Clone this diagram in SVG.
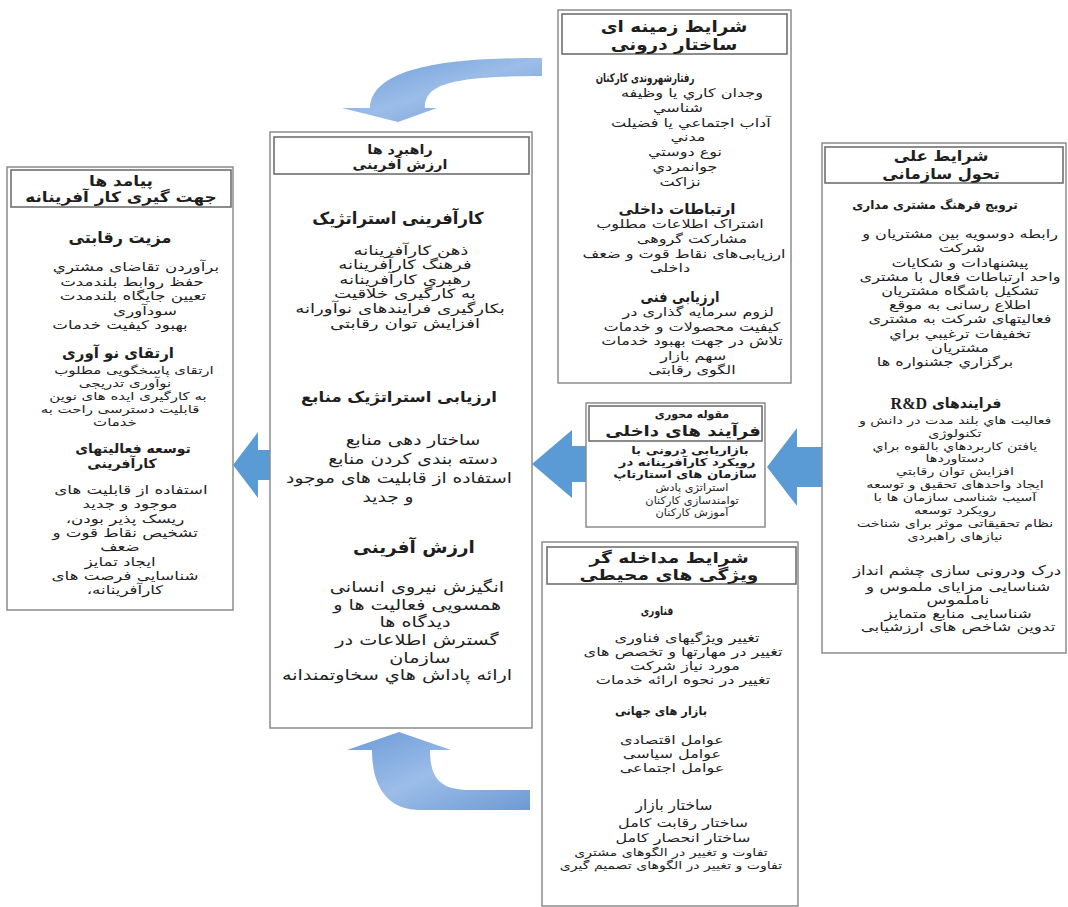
<svg xmlns="http://www.w3.org/2000/svg" width="1068" height="907" viewBox="0 0 1068 907">
<style>
.box{fill:#fff;stroke:#8c8c8c;stroke-width:1.5}
.hdr{fill:#fff;stroke:#707070;stroke-width:1.6}
text{font-family:"DejaVu Sans","Noto Sans",sans-serif;text-anchor:middle;direction:rtl;dominant-baseline:central;fill:#1e1e1e;transform-box:fill-box;transform-origin:50% 50%}
.bd{font-weight:bold}
.f105{font-size:10.5px}.f11{font-size:11px}.f115{font-size:11.5px}.f12{font-size:12px}.f13{font-size:13px}
.f14{font-size:14px}.f145{font-size:14.5px}.f15{font-size:15px}.f155{font-size:15.5px}.f16{font-size:16px}.f165{font-size:16.5px}.f17{font-size:17px}
.x072{transform:scaleX(.72)}.x08{transform:scaleX(.8)}.x087{transform:scaleX(.87)}.x095{transform:scaleX(.95)}.x108{transform:scaleX(1.08)}
.x11{transform:scaleX(1.1)}.x115{transform:scaleX(1.15)}.x117{transform:scaleX(1.17)}.x12{transform:scaleX(1.2)}
.x124{transform:scaleX(1.24)}.x128{transform:scaleX(1.28)}.x134{transform:scaleX(1.34)}.x136{transform:scaleX(1.36)}
.x139{transform:scaleX(1.39)}.x14{transform:scaleX(1.4)}
.arr{fill:#5b9bd5}
</style>
<defs>
<linearGradient id="cg" x1="0" y1="0" x2="1" y2="1">
<stop offset="0" stop-color="#6b9bd8"/>
<stop offset="0.5" stop-color="#9cbde8"/>
<stop offset="1" stop-color="#6d9ad4"/>
</linearGradient>
</defs>
<g id="connectors">
<path fill="url(#cg)" d="M542,58 C470,58 372,62 370,108 L342,108 L398,122 L437,108 L425,108 C425,86 445,76 542,76 Z"/>
<path fill="url(#cg)" d="M530,810 L420,810 C390,810 372,790 372,750 L347,750 L399,732 L451,750 L430,750 C430,778 440,790 470,790 L530,790 Z"/>
<path class="arr" d="M233,465 L258,432 L258,450 L272,450 L272,480 L258,480 L258,498 Z"/>
<path class="arr" d="M532,464 L572,430 L572,446 L588,446 L588,482 L572,482 L572,498 Z"/>
<path class="arr" d="M767,467 L797,428 L797,447 L822,447 L822,487 L797,487 L797,506 Z"/>
</g>
<g id="node-context">
<rect class="box" x="558" y="10" width="233" height="373"/>
<rect class="hdr" x="562" y="14" width="225" height="40"/>
<text class="bd f16 x115" x="674" y="26">شرایط زمینه ای</text>
<text class="bd f16 x115" x="674" y="44">ساختار درونی</text>
<text class="bd f12 x072" x="645" y="77">رفتارشهروندی کارکنان</text>
<text class="f12 x134" x="692" y="93">وجدان کاري يا وظيفه</text>
<text class="f12 x134" x="678" y="108">شناسي</text>
<text class="f12 x134" x="691" y="122.5">آداب اجتماعي يا فضيلت</text>
<text class="f12 x134" x="688" y="137">مدني</text>
<text class="f12 x134" x="685" y="152">نوع دوستي</text>
<text class="f12 x134" x="685" y="167">جوانمردي</text>
<text class="f12 x134" x="680" y="182">نزاكت</text>
<text class="bd f14 x108" x="677" y="209">ارتباطات داخلی</text>
<text class="f12 x134" x="680" y="224">اشتراک اطلاعات مطلوب</text>
<text class="f12 x134" x="692" y="239">مشارکت گروهی</text>
<text class="f12 x134" x="684" y="254">ارزیابی‌های نقاط قوت و ضعف</text>
<text class="f12 x134" x="670" y="268">داخلی</text>
<text class="bd f15 x087" x="680" y="297">ارزیابی فنی</text>
<text class="f12 x134" x="698" y="312">لزوم سرمایه گذاری در</text>
<text class="f12 x134" x="692" y="326.5">کیفیت محصولات و خدمات</text>
<text class="f12 x134" x="692" y="341">تلاش در جهت بهبود خدمات</text>
<text class="f12 x134" x="693" y="355.5">سهم بازار</text>
<text class="f12 x134" x="692" y="370">الگوی رقابتی</text>
</g>
<g id="node-causal">
<rect class="box" x="822" y="143" width="244" height="510"/>
<rect class="hdr" x="825" y="147" width="238" height="36"/>
<text class="bd f15 x108" x="941" y="156">شرایط علی</text>
<text class="bd f15 x108" x="941" y="174">تحول سازمانی</text>
<text class="bd f12" x="935" y="205">ترویج فرهنگ مشتری مداری</text>
<text class="f12 x134" x="960" y="234">رابطه دوسویه بین مشتریان و</text>
<text class="f12 x134" x="962" y="248.2">شرکت</text>
<text class="f12 x134" x="960" y="262.4">پیشنهادات و شکایات</text>
<text class="f12 x134" x="960" y="276.6">واحد ارتباطات فعال با مشتری</text>
<text class="f12 x134" x="960" y="290.8">تشکیل باشگاه مشتریان</text>
<text class="f12 x134" x="960" y="305">اطلاع رسانی به موقع</text>
<text class="f12 x134" x="960" y="319.2">فعالیتهای شرکت به مشتری</text>
<text class="f12 x134" x="960" y="333.4">تخفیفات ترغیبي براي</text>
<text class="f12 x134" x="960" y="347.6">مشتريان</text>
<text class="f12 x134" x="945" y="361.8">برگزاري جشنواره ها</text>
<text class="bd f14" x="946" y="403">فرایندهای <tspan font-family="Liberation Serif" font-size="16">R&amp;D</tspan></text>
<text class="f105 x136" x="955" y="420">فعالیت هاي بلند مدت در دانش و</text>
<text class="f105 x136" x="955" y="432.9">تکنولوژی</text>
<text class="f105 x136" x="955" y="445.8">یافتن کاربردهاي بالقوه براي</text>
<text class="f105 x136" x="955" y="458.7">دستاوردها</text>
<text class="f105 x136" x="955" y="471.6">افزایش توان رقابتي</text>
<text class="f105 x136" x="955" y="484.5">ایجاد واحدهای تحقیق و توسعه</text>
<text class="f105 x136" x="955" y="497.4">آسیب شناسی سازمان ها با</text>
<text class="f105 x136" x="955" y="510.3">رویکرد توسعه</text>
<text class="f105 x136" x="955" y="523.2">نظام تحقیقاتی موثر برای شناخت</text>
<text class="f105 x136" x="955" y="536.1">نیازهای راهبردی</text>
<text class="f13 x128" x="957" y="571">درک ودرونی سازی چشم انداز</text>
<text class="f12 x139" x="958" y="587">شناسایی مزایای ملموس و</text>
<text class="f12 x139" x="958" y="600.3">ناملموس</text>
<text class="f12 x139" x="958" y="613.6">شناسایی منابع متمایز</text>
<text class="f12 x139" x="958" y="627">تدوین شاخص های ارزشیابی</text>
</g>
<g id="node-outcomes">
<rect class="box" x="7" y="167" width="226" height="443"/>
<rect class="hdr" x="11" y="170" width="220" height="37"/>
<text class="bd f145 x117" x="121" y="181">پیامد ها</text>
<text class="bd f145 x117" x="121" y="197">جهت گیری کار آفرینانه</text>
<text class="bd f16" x="120" y="237">مزیت رقابتی</text>
<text class="f12 x139" x="136" y="267">برآوردن تقاضای مشتري</text>
<text class="f12 x139" x="132" y="281.5">حفظ روابط بلندمدت</text>
<text class="f12 x139" x="133" y="296">تعیین جایگاه بلندمدت</text>
<text class="f12 x139" x="145" y="310.5">سودآوری</text>
<text class="f12 x139" x="120" y="325">بهبود کیفیت خدمات</text>
<text class="bd f15" x="118" y="353">ارتقای نو آوری</text>
<text class="f11 x136" x="134" y="370">ارتقای پاسخگویی مطلوب</text>
<text class="f11 x136" x="125" y="383">نوآوری تدریجی</text>
<text class="f11 x136" x="128" y="396">به کارگیری ایده های  نوین</text>
<text class="f11 x136" x="120" y="409">قابلیت دسترسی راحت به</text>
<text class="f11 x136" x="115" y="422">خدمات</text>
<text class="bd f13 x108" x="133" y="448">توسعه فعالیتهای</text>
<text class="bd f13 x108" x="122" y="463">کارآفرینی</text>
<text class="f12 x139" x="131" y="490">استفاده از قابلیت های</text>
<text class="f12 x139" x="130" y="504.3">موجود و جدید</text>
<text class="f12 x139" x="125" y="518.6">ریسک پذیر بودن،</text>
<text class="f12 x139" x="125" y="532.9">تشخیص نقاط قوت و</text>
<text class="f12 x139" x="120" y="547.1">ضعف</text>
<text class="f12 x139" x="120" y="561.4">ایجاد تمایز</text>
<text class="f12 x139" x="125" y="575.7">شناسایی فرصت های</text>
<text class="f12 x139" x="125" y="590">کارآفرینانه،</text>
</g>
<g id="node-strategies">
<rect class="box" x="270" y="132" width="262" height="596"/>
<rect class="hdr" x="274" y="137" width="255" height="37"/>
<text class="bd f13 x11" x="400" y="149">راهبرد ها</text>
<text class="bd f13 x11" x="400" y="164">ارزش آفرینی</text>
<text class="bd f165" x="398" y="218">کارآفرینی استراتژیک</text>
<text class="f13 x14" x="411" y="250">ذهن کارآفرینانه</text>
<text class="f13 x14" x="405" y="264.6">فرهنگ کارآفرینانه</text>
<text class="f13 x14" x="405" y="279.2">رهبری کارآفرینانه</text>
<text class="f13 x14" x="405" y="293.8">به کارگیری خلاقیت</text>
<text class="f13 x14" x="400" y="308.4">بکارگیری فرایندهای نوآورانه</text>
<text class="f13 x14" x="405" y="323">افزایش توان رقابتی</text>
<text class="bd f15 x11" x="399" y="397">ارزیابی استراتژیک منابع</text>
<text class="f15 x124" x="413" y="440">ساختار دهی منابع</text>
<text class="f15 x124" x="413" y="459">دسته بندی کردن منابع</text>
<text class="f15 x124" x="399" y="478">استفاده از قابلیت های موجود</text>
<text class="f15 x124" x="388" y="497">و جدید</text>
<text class="bd f17 x108" x="414" y="547">ارزش آفرینی</text>
<text class="f15 x128" x="417" y="587">انگیزش نیروی انسانی</text>
<text class="f15 x128" x="417" y="604.6">همسویی فعالیت ها و</text>
<text class="f15 x128" x="415" y="622.2">دیدگاه ها</text>
<text class="f15 x128" x="417" y="639.8">گسترش اطلاعات در</text>
<text class="f15 x128" x="420" y="657.4">سازمان</text>
<text class="f15 x128" x="397" y="675">ارائه پاداش هاي سخاوتمندانه</text>
</g>
<g id="node-core">
<rect class="box" x="586" y="403" width="179" height="124"/>
<rect class="hdr" x="589" y="406" width="173" height="35"/>
<text class="bd f11" x="692" y="414">مقوله محوری</text>
<text class="bd f15 x12" x="683" y="431">فرآیند های داخلی</text>
<text class="bd f11 x12" x="690" y="450">بازاریابی درونی با</text>
<text class="bd f11 x12" x="687" y="462">رویکرد کارآفرینانه  در</text>
<text class="bd f11 x12" x="685" y="474">سازمان های استارتاپ</text>
<text class="f105 x108" x="692" y="488">استراتژی پادش</text>
<text class="f105 x108" x="692" y="500.5">توامندسازی کارکنان</text>
<text class="f105 x108" x="692" y="513">آموزش کارکنان</text>
</g>
<g id="node-intervening">
<rect class="box" x="542" y="542" width="256" height="364"/>
<rect class="hdr" x="547" y="547" width="249" height="37"/>
<text class="bd f15 x124" x="669" y="558">شرایط مداخله گر</text>
<text class="bd f15 x124" x="669" y="575">ویژگی های محیطی</text>
<text class="bd f115 x08" x="657" y="611">فناوری</text>
<text class="f12 x134" x="687" y="638">تغییر ویژگیهای فناوری</text>
<text class="f12 x134" x="683" y="652">تغییر در مهارتها و تخصص های</text>
<text class="f12 x134" x="685" y="666">مورد نیاز شرکت</text>
<text class="f12 x134" x="683" y="680">تغییر در نحوه ارائه خدمات</text>
<text class="bd f12 x095" x="661" y="711">بازار های جهانی</text>
<text class="f12 x134" x="672" y="740">عوامل اقتصادی</text>
<text class="f12 x134" x="672" y="754">عوامل سیاسی</text>
<text class="f12 x134" x="672" y="768">عوامل اجتماعی</text>
<text class="f14 x11" x="674" y="805">ساختار بازار</text>
<text class="f12 x134" x="683" y="823">ساختار رقابت کامل</text>
<text class="f12 x134" x="683" y="838">ساختار انحصار کامل</text>
<text class="f105 x134" x="671" y="852">تفاوت و تغییر در الگوهای مشتری</text>
<text class="f105 x134" x="671" y="865">تفاوت و تغییر در الگوهای تصمیم گیری</text>
</g>
</svg>
